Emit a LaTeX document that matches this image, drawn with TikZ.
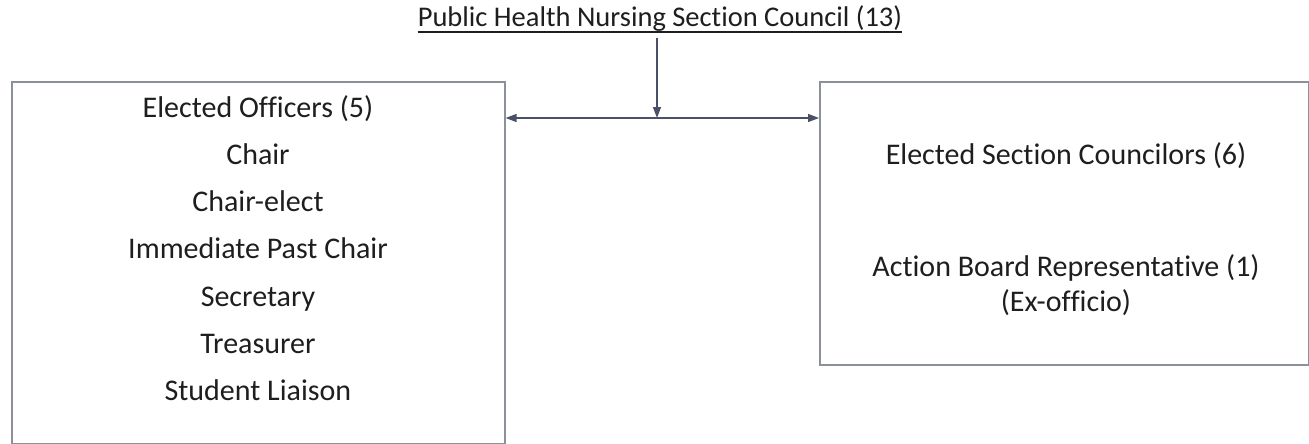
\documentclass[tikz,border=0pt]{standalone}
\usepackage{fontspec}
\setmainfont{Carlito}[Ligatures=NoCommon]
\usetikzlibrary{arrows.meta}
\definecolor{boxgray}{HTML}{8C9099}
\definecolor{linkslate}{HTML}{4A5066}
\definecolor{inkgray}{HTML}{1E1E1E}
\begin{document}
\begin{tikzpicture}[x=1pt,y=-1pt,
	>={Triangle[length=11pt,width=8pt]},
	box/.style={draw=boxgray, line width=1.6pt, inner sep=0pt, anchor=north west},
	link/.style={draw=linkslate, line width=1.4pt},
	lbl/.style={font=\fontsize{30}{36}\selectfont, text=inkgray, anchor=base, inner sep=0pt}]
	\useasboundingbox (0,0) rectangle (1309,444);

	% title and the two groups
	\node[lbl, font=\fontsize{28.5}{34}\selectfont] (council) at (660,27) {Public Health Nursing Section Council (13)};
	\draw[inkgray, line width=1.3pt] ([yshift=-5pt]council.base west) -- ([yshift=-5pt]council.base east);

	\node[box, minimum width=493pt, minimum height=362pt] (officers) at (11,81) {};
	\node[box, minimum width=489pt, minimum height=283pt] (councilors) at (819,81) {};

	% links
	\coordinate (stem) at (657,38);
	\coordinate (junction) at (657,118);
	\draw[link, ->] (stem) -- (junction);
	\draw[link, <->] (officers.east |- junction) -- (councilors.west |- junction);

	% elected officers
	\node[lbl] (officerhead) at (258,117.3) {Elected Officers (5)};
	\node[lbl] (chair) at (258,164.5) {Chair};
	\node[lbl] (chairelect) at (258,211.7) {Chair-elect};
	\node[lbl] (pastchair) at (258,258.9) {Immediate Past Chair};
	\node[lbl] (secretary) at (258,306.1) {Secretary};
	\node[lbl] (treasurer) at (258,353.3) {Treasurer};
	\node[lbl] (liaison) at (258,400.5) {Student Liaison};

	% councilors
	\node[lbl] (sectioncouncil) at (1066,164) {Elected Section Councilors (6)};
	\node[lbl] (actionrep) at (1066,276) {Action Board Representative (1)};
	\node[lbl] (exofficio) at (1066,311.7) {(Ex-officio)};
\end{tikzpicture}
\end{document}
